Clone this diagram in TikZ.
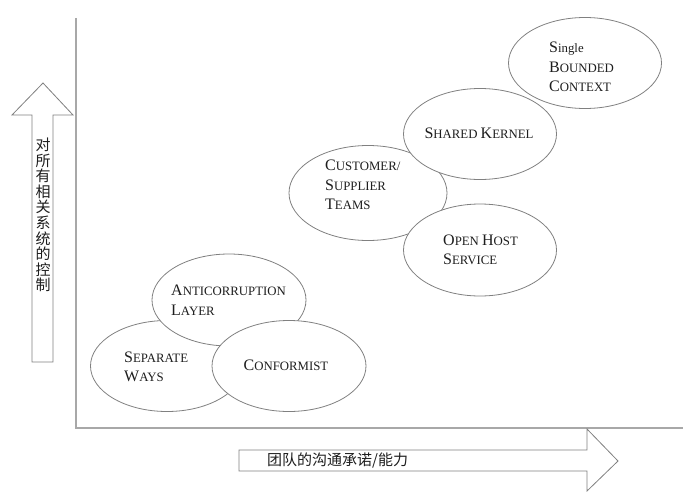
\documentclass[tikz,border=0pt]{standalone}
\usepackage{fontspec}
\setmainfont{Liberation Serif}
\newfontfamily\cjk{Noto Sans CJK SC}
\usetikzlibrary{shapes.geometric}
\definecolor{edge}{HTML}{808080}
\definecolor{axis}{HTML}{A8A8A8}
\definecolor{ink}{HTML}{1E1E1E}
\newcommand\Cp[1]{{\fontsize{16}{19.5}\selectfont #1}}
\tikzset{
  blob/.style={ellipse, draw=edge, fill=white, line width=0.8pt, inner sep=0pt},
  lbl/.style={text=ink, align=left, inner sep=0pt, font=\fontsize{12.8}{19.5}\selectfont},
  axisline/.style={draw=axis, line width=1.4pt},
  bigarrow/.style={draw=edge, line width=0.8pt, fill=white},
  cjklbl/.style={text=ink, inner sep=0pt, font=\cjk\fontsize{15}{15.6}\selectfont}
}
\begin{document}
\begin{tikzpicture}[x=1pt, y=-1pt]
\useasboundingbox (0,0) rectangle (700,503);
% axes
\coordinate (top) at (76,18);
\coordinate (origin) at (76,428);
\coordinate (right) at (683,428);
\draw[axisline] (top) -- (origin) -- (right);
% vertical arrow
\draw[bigarrow] (32,362) -- (32,115) -- (12,115) -- (43,83) -- (73,115) -- (53,115) -- (53,362) -- cycle;
\node[cjklbl, align=center] (ylab) at (43,215) {对\\所\\有\\相\\关\\系\\统\\的\\控\\制};
% horizontal arrow
\draw[bigarrow] (239,450) -- (587,450) -- (587,429) -- (618,461) -- (587,491) -- (587,471) -- (239,471) -- cycle;
\node[cjklbl, anchor=west] (xlab) at (267,461) {团队的沟通承诺/能力};
% ellipses
\node[blob, minimum width=153pt, minimum height=91pt] (single) at (585,63) {};
\node[blob, minimum width=158pt, minimum height=95pt] (cust) at (368,193) {};
\node[blob, minimum width=153pt, minimum height=91pt] (shared) at (480,134) {};
\node[blob, minimum width=153pt, minimum height=92pt] (ohs) at (480,250) {};
\node[blob, minimum width=153pt, minimum height=91pt] (sep) at (167,366) {};
\node[blob, minimum width=154pt, minimum height=92pt] (acl) at (229,300) {};
\node[blob, minimum width=154pt, minimum height=91pt] (conf) at (289,366) {};
% labels
\node[lbl, anchor=west] (tsingle) at (549,67) {\Cp{S}ingle\\\Cp{B}OUNDED\\\Cp{C}ONTEXT};
\node[lbl] (tshared) at (479,133) {\Cp{S}HARED \Cp{K}ERNEL};
\node[lbl, anchor=west] (tcust) at (325,185) {\Cp{C}USTOMER/\\\Cp{S}UPPLIER\\\Cp{T}EAMS};
\node[lbl, anchor=west] (tohs) at (443,250) {\Cp{O}PEN \Cp{H}OST\\\Cp{S}ERVICE};
\node[lbl, anchor=west] (tacl) at (171,300) {\Cp{A}NTICORRUPTION\\\Cp{L}AYER};
\node[lbl, anchor=west] (tsep) at (124,367) {\Cp{S}EPARATE\\\Cp{W}AYS};
\node[lbl] (tconf) at (286,365) {\Cp{C}ONFORMIST};
\end{tikzpicture}
\end{document}
